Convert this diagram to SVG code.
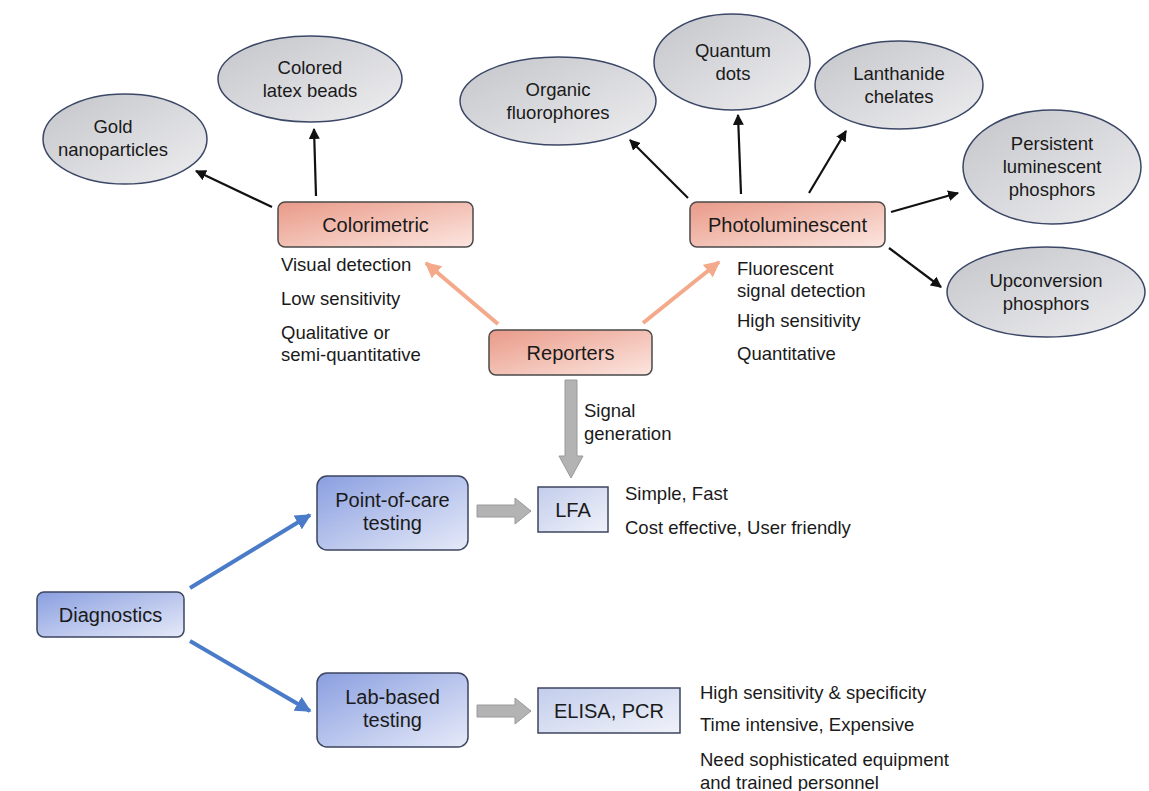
<svg xmlns="http://www.w3.org/2000/svg" width="1149" height="791" viewBox="0 0 1149 791">
<defs>
<linearGradient id="gEll" x1="0" y1="0" x2="1" y2="1"><stop offset="0" stop-color="#c4c5ca"/><stop offset="1" stop-color="#eeeef0"/></linearGradient>
<linearGradient id="gPink" x1="0" y1="0" x2="1" y2="1"><stop offset="0" stop-color="#e99a88"/><stop offset="1" stop-color="#fce6e0"/></linearGradient>
<linearGradient id="gBlue" x1="0" y1="0" x2="1" y2="1"><stop offset="0" stop-color="#8a9fe0"/><stop offset="1" stop-color="#e6eaf8"/></linearGradient>
<linearGradient id="gLight" x1="0" y1="0" x2="1" y2="1"><stop offset="0" stop-color="#c3cdec"/><stop offset="1" stop-color="#f0f2f9"/></linearGradient>
<marker id="mBlack" viewBox="0 0 10 10" refX="9" refY="5" markerWidth="5" markerHeight="5" orient="auto" markerUnits="strokeWidth"><path d="M0,0 L10,5 L0,10 z" fill="#111"/></marker>
<marker id="mOrange" viewBox="0 0 10 10" refX="9" refY="5" markerWidth="4" markerHeight="4" orient="auto" markerUnits="strokeWidth"><path d="M0,0 L10,5 L0,10 z" fill="#f4a98a"/></marker>
<marker id="mBlue" viewBox="0 0 10 10" refX="9" refY="5" markerWidth="4" markerHeight="4" orient="auto" markerUnits="strokeWidth"><path d="M0,0 L10,5 L0,10 z" fill="#4a7bc8"/></marker>
<style>
text{font-family:"Liberation Sans",Arial,sans-serif;fill:#1a1a1a}
.lbl{font-size:20px;text-anchor:middle}
.el{font-size:18.5px;text-anchor:middle}
.note{font-size:18.5px}
.ell{fill:url(#gEll);stroke:#3b4766;stroke-width:1.5}
.pink{fill:url(#gPink);stroke:#4a4a4a;stroke-width:1.5}
.blue{fill:url(#gBlue);stroke:#3c4660;stroke-width:1.5}
.light{fill:url(#gLight);stroke:#3c4660;stroke-width:1.5}
.blk{stroke:#111;stroke-width:2.2;fill:none;marker-end:url(#mBlack)}
.org{stroke:#f4a98a;stroke-width:4;fill:none;marker-end:url(#mOrange)}
.blu{stroke:#4a7bc8;stroke-width:4;fill:none;marker-end:url(#mBlue)}
.gray{fill:#b3b3b3;stroke:#9a9a9a;stroke-width:1}
</style>
</defs>
<rect width="1149" height="791" fill="#ffffff"/>

<g id="connectors">
<line class="blk" x1="272" y1="207" x2="196" y2="171"/>
<line class="blk" x1="316" y1="196" x2="314" y2="129"/>
<line class="blk" x1="688" y1="198" x2="630" y2="140"/>
<line class="blk" x1="741" y1="194" x2="738" y2="115"/>
<line class="blk" x1="809" y1="193" x2="846" y2="131"/>
<line class="blk" x1="891" y1="212" x2="958" y2="193"/>
<line class="blk" x1="889" y1="248" x2="941" y2="287"/>
<line class="org" x1="498" y1="324" x2="426" y2="263"/>
<line class="org" x1="643" y1="323" x2="719" y2="262"/>
<line class="blu" x1="190" y1="588" x2="310" y2="515"/>
<line class="blu" x1="190" y1="641" x2="310" y2="711"/>
<path class="gray" d="M565,380 H577 V456 H583 L571,478 L559,456 H565 Z"/>
<path class="gray" d="M477,505 H515 V498 L531,511 L515,524 V517 H477 Z"/>
<path class="gray" d="M477,705 H515 V698 L531,711 L515,724 V717 H477 Z"/>
</g>

<g id="gold"><ellipse class="ell" cx="125" cy="139" rx="82" ry="45"/><text class="el" x="113" y="133">Gold</text><text class="el" x="113" y="156">nanoparticles</text></g>
<g id="latex"><ellipse class="ell" cx="310" cy="79" rx="92" ry="43"/><text class="el" x="310" y="74">Colored</text><text class="el" x="310" y="97">latex beads</text></g>
<g id="organic"><ellipse class="ell" cx="558" cy="101" rx="98" ry="44"/><text class="el" x="558" y="96">Organic</text><text class="el" x="558" y="119">fluorophores</text></g>
<g id="quantum"><ellipse class="ell" cx="732" cy="62" rx="78" ry="48"/><text class="el" x="733" y="57">Quantum</text><text class="el" x="733" y="80">dots</text></g>
<g id="lanthanide"><ellipse class="ell" cx="899" cy="85" rx="84" ry="44"/><text class="el" x="899" y="80">Lanthanide</text><text class="el" x="899" y="103">chelates</text></g>
<g id="persistent"><ellipse class="ell" cx="1052" cy="167" rx="89" ry="57"/><text class="el" x="1052" y="150">Persistent</text><text class="el" x="1052" y="173">luminescent</text><text class="el" x="1052" y="196">phosphors</text></g>
<g id="upconversion"><ellipse class="ell" cx="1046" cy="292" rx="99" ry="45"/><text class="el" x="1046" y="287">Upconversion</text><text class="el" x="1046" y="310">phosphors</text></g>

<g id="colorimetric"><rect class="pink" x="278" y="202" width="195" height="45" rx="7"/><text class="lbl" x="375.5" y="231.5">Colorimetric</text></g>
<g id="photoluminescent"><rect class="pink" x="690" y="202" width="195" height="45" rx="7"/><text class="lbl" x="787.5" y="231.5">Photoluminescent</text></g>
<g id="reporters"><rect class="pink" x="489" y="330" width="163" height="45" rx="7"/><text class="lbl" x="570.5" y="359.5">Reporters</text></g>

<g id="colorimetric-notes">
<text class="note" x="281" y="271">Visual detection</text>
<text class="note" x="281" y="305">Low sensitivity</text>
<text class="note" x="281" y="339">Qualitative or</text>
<text class="note" x="281" y="361">semi-quantitative</text>
</g>
<g id="photo-notes">
<text class="note" x="737" y="275">Fluorescent</text>
<text class="note" x="737" y="297">signal detection</text>
<text class="note" x="737" y="327">High sensitivity</text>
<text class="note" x="737" y="360">Quantitative</text>
</g>
<g id="signal-label">
<text class="note" x="584" y="417">Signal</text>
<text class="note" x="584" y="440">generation</text>
</g>

<g id="diagnostics"><rect class="blue" x="37" y="592" width="147" height="45" rx="7"/><text class="lbl" x="110.5" y="621.5">Diagnostics</text></g>
<g id="poc"><rect class="blue" x="317" y="476" width="151" height="74" rx="10"/><text class="lbl" x="392.5" y="507">Point-of-care</text><text class="lbl" x="392.5" y="530">testing</text></g>
<g id="lab"><rect class="blue" x="317" y="673" width="151" height="74" rx="10"/><text class="lbl" x="392.5" y="704">Lab-based</text><text class="lbl" x="392.5" y="727">testing</text></g>
<g id="lfa"><rect class="light" x="538" y="487" width="70" height="45"/><text class="lbl" x="573" y="516.5">LFA</text></g>
<g id="elisa"><rect class="light" x="538" y="688" width="142" height="45"/><text class="lbl" x="609" y="717.5">ELISA, PCR</text></g>

<g id="lfa-notes">
<text class="note" x="625" y="500">Simple, Fast</text>
<text class="note" x="625" y="534">Cost effective, User friendly</text>
</g>
<g id="elisa-notes">
<text class="note" x="700" y="699">High sensitivity &amp; specificity</text>
<text class="note" x="700" y="731">Time intensive, Expensive</text>
<text class="note" x="700" y="766">Need sophisticated equipment</text>
<text class="note" x="700" y="789">and trained personnel</text>
</g>
</svg>
